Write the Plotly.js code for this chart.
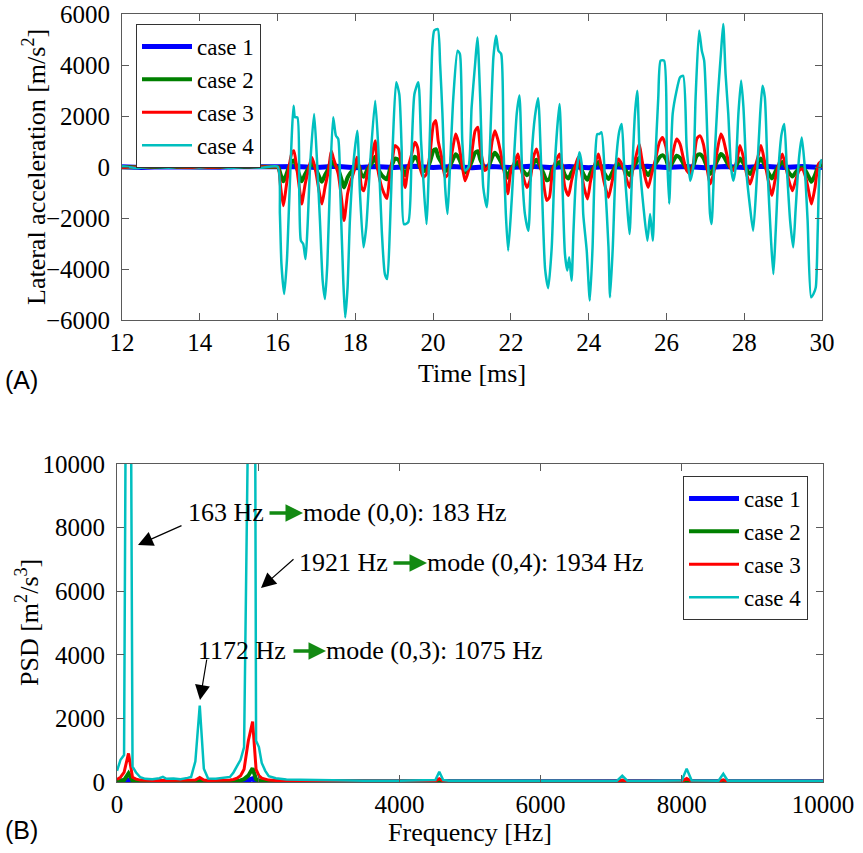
<!DOCTYPE html>
<html><head><meta charset="utf-8">
<script src="https://cdn.plot.ly/plotly-3.0.1.min.js"></script>
<style>html,body{margin:0;padding:0;background:#fff}</style>
</head><body><div id="chart" style="width:863px;height:853px"></div>
<script>
// ---------- (A) time signals ----------
const caseNames = ['case 1', 'case 2', 'case 3', 'case 4'];

const time1 = [12,12.5,13,13.5,14,14.5,15,15.5,16,16.5,17,17.5,18,18.5,19,19.5,20,20.5,21,21.5,22,22.5,23,23.5,24,24.5,25,25.5,26,26.5,27,27.5,28,28.5,29,29.5,30];
const acc1 = [10,-15,12,-10,15,-12,10,-15,8,20,-20,25,-25,20,-22,25,-20,22,-25,20,-22,25,-20,22,-25,20,-22,25,-20,22,-25,20,-22,25,-20,22,-20];

const time3 = [12,13,14,15,16,16.02,16.08,16.15,16.22,16.28,16.36,16.42,16.49,16.58,16.62,16.71,16.79,16.88,16.96,17.08,17.14,17.22,17.31,17.38,17.43,17.56,17.65,17.71,17.80,17.86,17.97,18.04,18.10,18.16,18.22,18.31,18.42,18.51,18.57,18.68,18.81,18.89,18.96,19.02,19.11,19.19,19.28,19.36,19.45,19.53,19.60,19.66,19.75,19.83,19.92,20.01,20.07,20.13,20.22,20.31,20.39,20.48,20.58,20.65,20.73,20.82,20.91,20.99,21.08,21.15,21.21,21.27,21.33,21.42,21.52,21.59,21.66,21.76,21.85,21.92,22.00,22.11,22.18,22.23,22.32,22.41,22.49,22.58,22.66,22.75,22.83,22.92,22.99,23.07,23.16,23.25,23.31,23.39,23.48,23.56,23.65,23.73,23.79,23.88,23.97,24.05,24.16,24.25,24.31,24.39,24.51,24.59,24.68,24.76,24.85,24.96,25.05,25.13,25.23,25.30,25.36,25.45,25.53,25.62,25.71,25.82,25.90,25.99,26.07,26.16,26.26,26.35,26.43,26.52,26.61,26.69,26.78,26.86,26.95,27.03,27.12,27.21,27.29,27.40,27.46,27.55,27.63,27.72,27.81,27.89,27.98,28.06,28.15,28.23,28.35,28.43,28.52,28.62,28.71,28.79,28.89,28.98,29.07,29.15,29.24,29.32,29.41,29.49,29.58,29.67,29.73,29.82,29.91,30.00];
const acc3 = [-20,20,-10,15,0,0,-800,-1520,-800,-140,510,640,0,-1050,-1450,-670,-140,380,0,-1050,-1450,-800,-140,640,380,-270,-1310,-2100,-1050,-670,-140,380,0,-800,-930,-270,380,1030,0,-800,-1240,-270,380,840,710,0,-800,0,510,970,770,0,-400,-270,510,1690,1820,1030,380,-400,-270,510,1290,970,250,-540,-140,510,1420,1560,770,250,-140,0,1030,1420,1100,380,-400,-1050,-140,250,510,120,-400,-800,-540,380,710,120,-540,-1310,-1190,-140,250,510,120,-800,-1120,-540,0,380,0,-800,-1250,-540,120,510,120,-540,-1190,-670,0,310,120,-400,-800,-140,510,900,380,-400,-800,-270,250,970,1160,770,-140,510,1100,900,380,-140,-270,120,1100,1230,900,120,-670,-270,510,1290,1100,510,0,-140,250,840,380,-270,-670,-270,380,840,250,-540,-1120,-540,120,510,0,-540,-930,-540,-140,-70,-400,-1050,-1450,-800,120,250];
const acc2 = [-10,10,-5,10,0,0,-300,-560,-320,-60,200,250,0,-420,-560,-280,-60,150,0,-420,-580,-320,-60,250,150,-100,-520,-800,-420,-260,-60,150,0,-320,-380,-100,150,400,0,-320,-480,-100,150,330,280,0,-320,0,200,400,300,0,-160,-100,200,650,700,400,150,-160,-100,200,500,380,100,-220,-60,200,560,620,300,100,-60,0,400,560,430,150,-160,-420,-60,100,200,50,-160,-320,-220,150,280,50,-220,-520,-470,-60,100,200,50,-320,-450,-220,0,150,0,-320,-500,-220,50,200,50,-220,-470,-270,0,120,50,-160,-320,-60,200,360,150,-160,-320,-100,100,380,460,300,-60,200,440,360,150,-60,-100,50,440,500,360,50,-270,-100,200,510,440,200,0,-60,100,330,150,-100,-270,-100,150,330,100,-220,-450,-220,50,200,0,-220,-370,-220,-60,-30,-160,-420,-580,-320,50,100];

const time4 = [12,12.4,12.8,13.2,13.6,14.0,14.4,14.8,15.2,15.6,16.0,16.06,16.10,16.17,16.24,16.30,16.36,16.41,16.45,16.51,16.56,16.60,16.66,16.72,16.77,16.84,16.94,17.01,17.09,17.16,17.22,17.28,17.35,17.43,17.50,17.56,17.62,17.69,17.74,17.80,17.86,17.95,18.05,18.12,18.21,18.28,18.38,18.51,18.59,18.68,18.76,18.82,18.89,18.96,19.05,19.13,19.19,19.25,19.36,19.45,19.52,19.62,19.69,19.75,19.83,19.92,19.98,20.03,20.12,20.18,20.24,20.31,20.37,20.43,20.52,20.63,20.69,20.75,20.82,20.91,20.99,21.08,21.14,21.21,21.29,21.38,21.46,21.55,21.62,21.68,21.75,21.81,21.87,21.93,22.02,22.15,22.22,22.29,22.36,22.45,22.53,22.62,22.70,22.78,22.88,22.96,23.05,23.13,23.25,23.31,23.39,23.45,23.50,23.56,23.61,23.67,23.76,23.82,23.86,23.95,24.03,24.10,24.16,24.22,24.27,24.33,24.42,24.51,24.55,24.62,24.70,24.79,24.85,24.91,24.98,25.05,25.11,25.19,25.25,25.32,25.41,25.51,25.58,25.65,25.71,25.79,25.85,25.94,26.01,26.07,26.16,26.26,26.35,26.43,26.52,26.61,26.69,26.75,26.84,26.91,26.97,27.06,27.12,27.16,27.23,27.32,27.40,27.46,27.52,27.59,27.66,27.72,27.78,27.85,27.92,27.98,28.06,28.15,28.23,28.32,28.41,28.47,28.53,28.60,28.69,28.75,28.81,28.89,28.96,29.03,29.09,29.18,29.26,29.32,29.41,29.48,29.55,29.63,29.72,29.78,29.84,29.89,29.95,30.00];
const acc4 = [30,-40,20,-30,40,-20,30,-40,20,-30,10,-1840,-3800,-4980,-3670,-1320,1030,2400,1950,1950,-1180,-2890,-3020,-3610,-2370,120,2080,380,-2100,-4460,-5180,-3800,-540,1950,1230,1100,-1320,-4460,-5900,-4720,-2100,120,1420,-1060,-3150,-2370,120,2600,770,-2500,-4200,-4390,-2370,770,3320,2860,770,-2240,-2170,770,2860,3320,1030,-540,-2240,1420,4690,5350,5410,4040,2080,-800,-1840,-140,2730,4560,4430,1030,-140,0,2340,4040,5080,2730,-800,-1580,770,4300,5150,4560,4430,770,-1840,-3280,-1320,2080,2800,-270,-1840,-2500,380,2000,2700,0,-4000,-4750,-3150,120,2470,120,-3410,-4060,-3540,-4460,-2500,-540,575,120,-1840,-3280,-5240,-3150,120,1290,1290,1360,-540,-3150,-5110,-3150,120,1420,1690,120,-1320,-2630,-540,2080,2990,0,-1580,-2890,-1840,-2890,120,2730,4170,4170,770,-1440,2080,2990,3520,3580,770,-540,0,2730,5350,4560,4170,770,-1840,-2240,120,2730,4430,5610,3650,2080,0,-540,0,2080,3390,2340,-270,-1580,-2500,-540,2080,3190,2730,-140,-2890,-4200,-2500,120,1290,1690,120,-2100,-3150,-1710,380,1160,120,-2100,-5110,-4980,-4720,-2500,120,300];

// ---------- (B) PSD ----------
const freq = [0,50,100,163,220,270,330,400,500,600,650,700,800,900,1000,1050,1110,1172,1230,1290,1400,1500,1600,1650,1700,1750,1800,1860,1921,1970,2010,2050,2100,2150,2250,2400,2600,2800,3000,3500,4000,4450,4510,4565,4620,4700,5500,6500,7080,7157,7230,7500,8000,8069,8140,8520,8588,8650,9000,9500,10000];
const psd4 = [350,700,850,30000,480,300,150,100,90,120,160,100,110,90,130,160,650,2400,420,110,100,120,160,300,500,700,1100,12000,40000,1300,1100,600,350,180,120,80,70,60,60,40,40,40,60,320,60,40,35,35,35,200,35,35,50,420,50,40,260,40,35,35,35];
const psd3 = [80,150,300,900,150,90,60,50,50,50,50,50,50,50,50,50,60,140,60,50,50,50,60,80,120,200,400,1300,1900,400,200,120,80,60,50,40,35,30,30,25,25,25,30,100,30,25,25,25,25,60,25,25,25,110,25,25,70,25,25,25,25];
const psd2 = [20,40,60,270,40,25,20,15,15,15,15,15,15,15,15,15,15,30,15,15,15,15,15,20,30,50,90,200,430,80,40,25,20,15,15,12,12,10,10,10,10,10,10,25,10,10,10,10,10,15,10,10,10,40,10,10,20,10,10,10,10];
const psd1 = [5,10,20,60,10,5,5,5,5,5,5,5,5,5,5,5,5,8,5,5,5,5,5,5,8,12,25,60,100,15,8,5,5,5,5,5,5,5,5,5,5,5,5,8,5,5,5,5,5,6,5,5,5,10,5,5,6,5,5,5,5];

// ticks
const timeTicks = [12,14,16,18,20,22,24,26,28,30];
const accTicks = [-6000,-4000,-2000,0,2000,4000,6000];
const freqTicks = [0,2000,4000,6000,8000,10000];
const psdTicks = [0,2000,4000,6000,8000,10000];

const colors = ['#0000ff', '#008000', '#ff0000', '#00bfbf'];
const widths = [5, 4, 3, 2.5];

const serif = 'Liberation Serif, Times New Roman, serif';
const sans = 'Liberation Sans, Arial, sans-serif';

const timeX = [time1, time3, time3, time4];
const timeY = [acc1, acc2, acc3, acc4];
const psdY = [psd1, psd2, psd3, psd4];

const traces = [];
for (let i = 0; i < 4; i++) {
  traces.push({x: timeX[i], y: timeY[i], type: 'scatter', mode: 'lines', name: caseNames[i],
    line: {color: colors[i], width: widths[i], shape: i === 0 ? 'linear' : 'spline', smoothing: 0.6},
    xaxis: 'x', yaxis: 'y', legend: 'legend'});
}
for (let i = 0; i < 4; i++) {
  traces.push({x: freq, y: psdY[i], type: 'scatter', mode: 'lines', name: caseNames[i],
    line: {color: colors[i], width: widths[i]}, xaxis: 'x2', yaxis: 'y2', legend: 'legend2'});
}

const W = 863, H = 853;
const px = v => v / W;
const py = v => (H - v) / H;

function axisBase() {
  return {
    showline: true, linecolor: '#5a5a5a', linewidth: 1, mirror: 'ticks',
    ticks: 'inside', ticklen: 7, tickcolor: '#5a5a5a', showgrid: false, zeroline: false,
    tickformat: 'd', exponentformat: 'none',
    tickfont: {family: serif, size: 25, color: '#000'}
  };
}

// PSD plot pixel -> data helpers (for annotation placement)
const fX = p => (p - 117) / 706 * 10000;
const fY = p => (782 - p) / 318 * 10000;

const ann = [];
function label(text, x, y) {
  ann.push({xref: 'x2', yref: 'y2', x: fX(x), y: fY(y), text: text, showarrow: false,
    xanchor: 'left', yanchor: 'middle', font: {family: serif, size: 26, color: '#000'}});
}
function arrow(x0, y0, x1, y1, color, width, size) {
  ann.push({xref: 'x2', yref: 'y2', axref: 'x2', ayref: 'y2', x: fX(x1), y: fY(y1), ax: fX(x0), ay: fY(y0),
    text: '', showarrow: true, arrowhead: 2, arrowcolor: color, arrowwidth: width, arrowsize: size, standoff: 0, startstandoff: 0});
}
label('163 Hz', 186, 512);
arrow(268, 513, 303, 513, '#138a13', 3.5, 1);
label('mode (0,0): 183 Hz', 301, 512);
arrow(183, 525, 138, 545, '#000', 1.2, 2.5);

label('1921 Hz', 297, 562);
arrow(392, 563, 427, 563, '#138a13', 3.5, 1);
label('mode (0,4): 1934 Hz', 425, 562);
arrow(295, 558, 261, 588, '#000', 1.2, 2.5);

label('1172 Hz', 196, 650);
arrow(292, 651, 326, 651, '#138a13', 3.5, 1);
label('mode (0,3): 1075 Hz', 324, 650);
arrow(207, 658, 200, 700, '#000', 1.2, 2.5);

// y-axis titles and panel tags
ann.push({xref: 'paper', yref: 'paper', x: px(35), y: py(167), text: 'Lateral acceleration [m/s<sup>2</sup>]',
  textangle: -90, showarrow: false, xanchor: 'center', yanchor: 'middle', font: {family: serif, size: 26, color: '#000'}});
ann.push({xref: 'paper', yref: 'paper', x: px(27), y: py(623), text: 'PSD [m<sup>2</sup>/s<sup>3</sup>]',
  textangle: -90, showarrow: false, xanchor: 'center', yanchor: 'middle', font: {family: serif, size: 26, color: '#000'}});
ann.push({xref: 'paper', yref: 'paper', x: px(3), y: py(380), text: '(A)', showarrow: false,
  xanchor: 'left', yanchor: 'middle', font: {family: sans, size: 25, color: '#000'}});
ann.push({xref: 'paper', yref: 'paper', x: px(3), y: py(830), text: '(B)', showarrow: false,
  xanchor: 'left', yanchor: 'middle', font: {family: sans, size: 25, color: '#000'}});

function legendBase() {
  return {
    bgcolor: '#fff', bordercolor: '#333', borderwidth: 1, xanchor: 'left', yanchor: 'top',
    font: {family: serif, size: 23, color: '#000'}, itemwidth: 50, tracegroupgap: 0
  };
}

const layout = {
  width: W, height: H, margin: {l: 0, r: 0, t: 0, b: 0},
  font: {family: serif, size: 25, color: '#000'},
  paper_bgcolor: '#fff', plot_bgcolor: '#fff', showlegend: true,
  xaxis: Object.assign(axisBase(), {domain: [px(122), px(822)], range: [12, 30], tickvals: timeTicks, anchor: 'y',
    title: {text: 'Time [ms]', font: {family: serif, size: 26, color: '#000'}, standoff: 8}}),
  yaxis: Object.assign(axisBase(), {domain: [py(320), py(14)], range: [-6000, 6000], tickvals: accTicks, anchor: 'x', ticklabelstandoff: 6}),
  xaxis2: Object.assign(axisBase(), {domain: [px(117), px(823)], range: [0, 10000], tickvals: freqTicks, anchor: 'y2',
    title: {text: 'Frequency [Hz]', font: {family: serif, size: 26, color: '#000'}, standoff: 2}}),
  yaxis2: Object.assign(axisBase(), {domain: [py(782), py(464)], range: [0, 10000], tickvals: psdTicks, anchor: 'x2', ticklabelstandoff: 6}),
  legend: Object.assign(legendBase(), {x: px(136), y: py(24)}),
  legend2: Object.assign(legendBase(), {x: px(683), y: py(476)}),
  annotations: ann
};

Plotly.newPlot('chart', traces, layout, {staticPlot: true, displayModeBar: false});
</script>
</body></html>
